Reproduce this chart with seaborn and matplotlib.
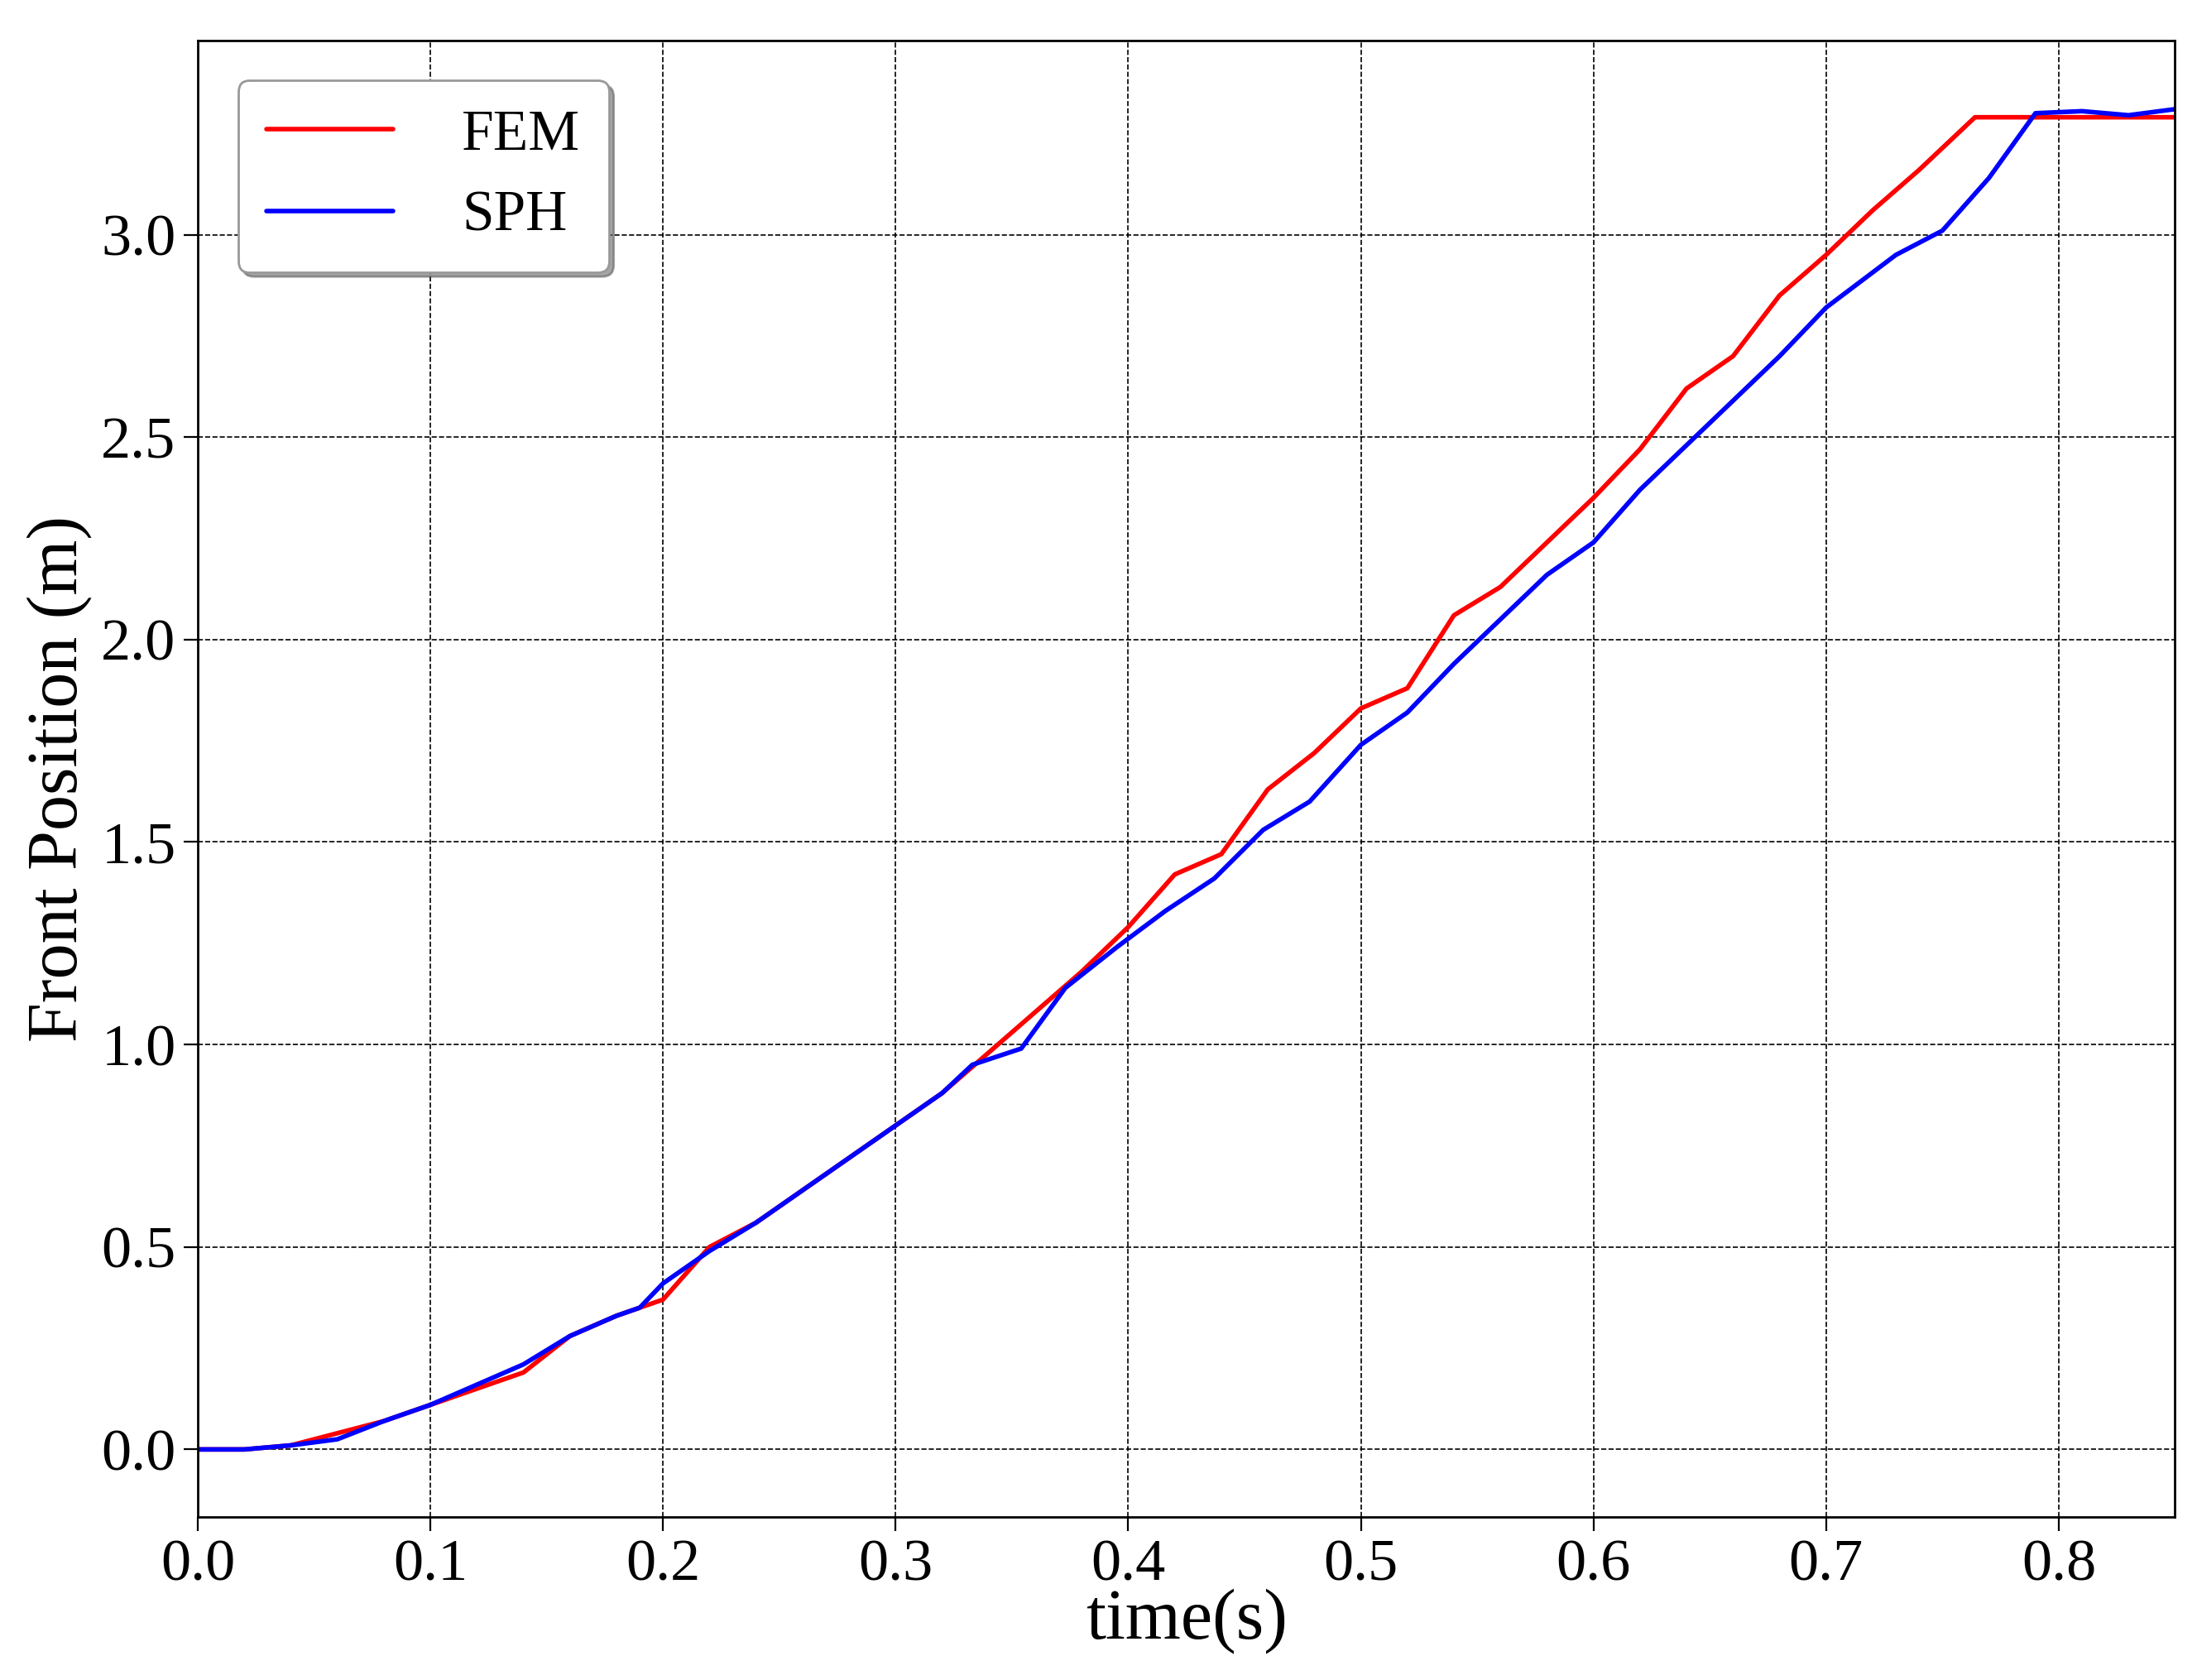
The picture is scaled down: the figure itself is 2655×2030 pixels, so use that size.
import matplotlib
matplotlib.use("Agg")
import matplotlib.pyplot as plt
import seaborn as sns
import pandas as pd

fem_t = [0,0.02,0.04,0.06,0.08,0.1,0.12,0.14,0.16,0.18,0.2,0.22,0.24,0.26,0.28,0.3,0.32,0.34,0.36,0.38,0.4,0.42,0.44,0.46,0.48,0.5,0.52,0.54,0.56,0.58,0.6,0.62,0.64,0.66,0.68,0.7,0.72,0.74,0.764,0.85]
fem_x = [0,0,0.01,0.04,0.07,0.11,0.15,0.19,0.28,0.33,0.37,0.5,0.56,0.64,0.72,0.8,0.88,0.98,1.08,1.18,1.29,1.42,1.47,1.63,1.72,1.83,1.88,2.06,2.13,2.24,2.35,2.47,2.62,2.7,2.85,2.95,3.06,3.16,3.29,3.29]
sph_t = [0,0.02,0.04,0.06,0.08,0.1,0.12,0.14,0.16,0.18,0.19,0.2,0.22,0.24,0.26,0.28,0.3,0.32,0.333,0.354,0.373,0.395,0.416,0.437,0.458,0.478,0.5,0.52,0.54,0.56,0.58,0.6,0.62,0.64,0.66,0.68,0.7,0.73,0.75,0.77,0.79,0.81,0.83,0.85]
sph_x = [0,0,0.01,0.025,0.07,0.11,0.16,0.21,0.28,0.33,0.35,0.41,0.49,0.56,0.64,0.72,0.8,0.88,0.95,0.99,1.14,1.24,1.33,1.41,1.53,1.60,1.74,1.82,1.94,2.05,2.16,2.24,2.37,2.48,2.59,2.70,2.82,2.95,3.01,3.14,3.30,3.305,3.295,3.31]

df = pd.concat([
    pd.DataFrame({"t": fem_t, "x": fem_x, "method": "FEM"}),
    pd.DataFrame({"t": sph_t, "x": sph_x, "method": "SPH"}),
])

sns.set_style("ticks")
plt.rcParams['font.family'] = ['Liberation Serif', 'DejaVu Serif']
for k in ['text.color', 'axes.labelcolor', 'xtick.color', 'ytick.color', 'axes.edgecolor']:
    plt.rcParams[k] = 'black'

fig = plt.figure(figsize=(13.275, 10.15), dpi=200)
ax = fig.add_axes([0.09, 0.097, 0.9, 0.879])
sns.lineplot(data=df, x="t", y="x", hue="method", palette={"FEM": "red", "SPH": "blue"},
             sort=False, estimator=None, linewidth=2, ax=ax)
ax.set_xlim(0, 0.85)
ax.set_ylim(-0.167, 3.48)
ax.set_xticks([0,0.1,0.2,0.3,0.4,0.5,0.6,0.7,0.8])
ax.set_yticks([0,0.5,1,1.5,2,2.5,3])
ax.set_xticklabels([f"{v:.1f}" for v in ax.get_xticks()])
ax.set_yticklabels([f"{v:.1f}" for v in ax.get_yticks()])
ax.tick_params(labelsize=26, length=6)
ax.grid(True, color='black', linestyle='--', linewidth=0.6)
ax.set_xlabel("time(s)", fontsize=31, labelpad=-2)
ax.set_ylabel("Front Position (m)", fontsize=31)
for s in ax.spines.values():
    s.set_linewidth(1)
leg = ax.legend(loc='upper left', fontsize=25, shadow=True, fancybox=True,
                borderpad=0.5, handlelength=2.2, handletextpad=1.2, framealpha=1,
                borderaxespad=0.7)
leg.get_frame().set_edgecolor('#999999')
fig.savefig("out.png", dpi=200)
